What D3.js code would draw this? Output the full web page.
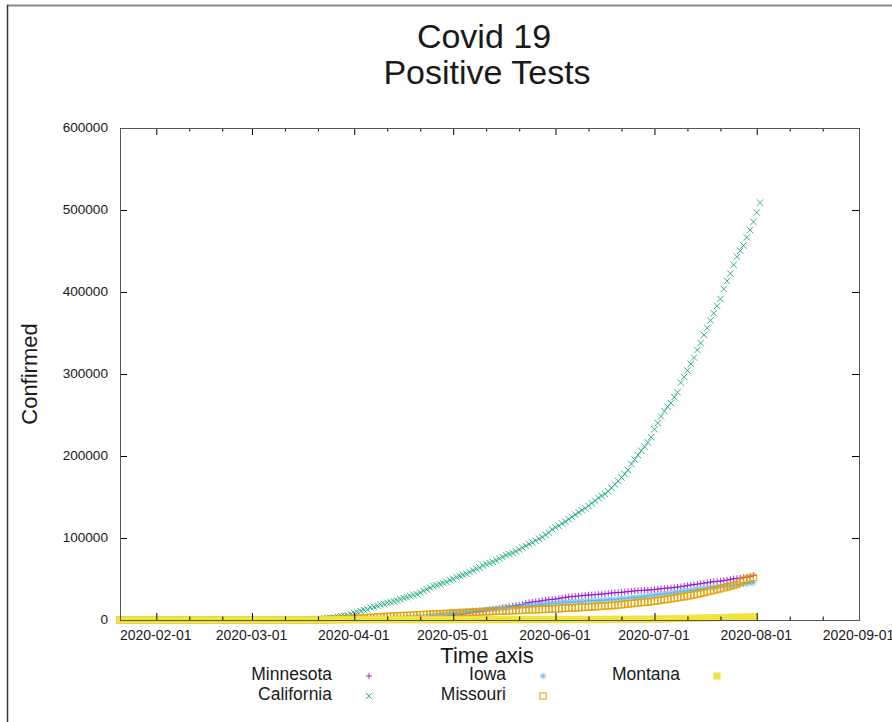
<!DOCTYPE html>
<html><head><meta charset="utf-8">
<script src="https://cdn.jsdelivr.net/npm/d3@7"></script>
<style>
body{margin:0;background:#fff}
text{font-family:"Liberation Sans",Arial,Helvetica,sans-serif;fill:#1a1a1a}
</style>
</head><body>
<svg id="chart" width="892" height="722"></svg>
<script>
// ---------- DATA (daily cumulative positive tests, one value per day from firstDay) ----------
const firstDay = "2020-01-21";
const seriesNames = ["Minnesota", "California", "Iowa", "Missouri", "Montana"];

const minnesota = [
  0,0,0,0,0,0,0,0,0,0,0,0,
  0,0,0,0,0,0,0,0,0,0,0,0,0,0,0,0,0,0,0,0,0,0,0,0,0,0,0,
  0,0,0,0,0,1,1,2,2,3,5,9,14,21,35,54,60,77,89,115,138,169,235,262,287,346,398,441,503,576,629,
  689,742,789,865,935,986,1069,1154,1242,1336,1427,1500,1621,1695,1809,1912,2071,2213,2356,2470,2567,2721,2942,3185,3446,3602,3816,4181,4420,4644,
  5136,5730,6228,6663,7234,7851,8579,9365,9794,10088,11271,11799,12494,12917,13435,14240,14969,15624,16372,17029,17670,18200,19005,20573,21315,21960,22464,22947,23531,24190,24850,
  25208,25508,26273,26980,27501,28224,28523,28869,29316,29795,30172,30471,30693,30882,31296,31675,32031,32467,32920,33227,33469,33763,34123,34616,35033,35549,35861,36052,36303,36500,
  36716,37210,37624,38136,38569,38972,39133,39589,40163,40767,41407,42023,42772,43170,43742,44347,45013,45470,46204,46898,47107,47457,48011,48721,49488,50291,50803,51153,51803,52281,52947,
  54463
];
const california = [
  0,0,0,0,0,0,0,2,2,2,2,3,
  3,3,6,6,6,6,6,6,6,6,6,6,6,6,6,6,6,6,6,6,8,8,8,8,10,10,10,
  10,10,12,21,25,35,51,59,81,95,101,144,178,221,282,340,426,557,698,751,952,1177,1364,1642,2108,2538,2998,3899,4657,5095,5852,
  7138,8210,9399,10773,12004,12837,15034,16019,17351,18897,19710,21081,21706,22795,23931,25356,26686,27677,29157,30491,31431,33261,35465,37344,39254,41355,42368,43558,45031,46164,
  48747,50130,52197,53616,54937,56212,58456,60614,62512,63779,66558,67939,69329,70978,72798,74936,76781,78839,80430,81795,83752,85997,88031,90252,92710,94558,96733,98980,101050,103813,106629,
  110583,113006,114733,117687,119807,122917,125738,128593,131319,133816,136191,139281,142338,145643,148855,151452,153560,157015,161099,165416,169530,173824,178054,183073,190222,195571,201050,206433,211243,216550,
  222917,232657,240195,248235,254745,260155,264681,271684,277774,289468,296499,304297,312344,320030,329162,337710,347634,356178,365334,374076,382971,391538,403725,413576,422528,433175,443083,450242,456714,466550,475541,
  485502,497000,509000
];
const iowa = [
  0,0,0,0,0,0,0,0,0,0,0,0,
  0,0,0,0,0,0,0,0,0,0,0,0,0,0,0,0,0,0,0,0,0,0,0,0,0,0,0,
  0,0,0,0,0,0,0,3,8,13,14,16,17,18,22,23,29,38,44,45,68,90,105,124,145,179,235,298,336,424,497,
  549,614,699,786,868,946,1048,1145,1270,1388,1510,1587,1710,1899,1995,2141,2332,2513,2902,3159,3641,3748,3924,4445,5092,5476,5868,6376,6843,7145,
  7884,8641,9169,9703,10111,10404,10942,11059,11457,11671,11959,12373,12912,13289,13675,14049,14651,14955,15293,15620,15917,16385,16893,17252,17556,17885,18091,18585,18950,19341,19670,
  19951,20337,20731,21130,21483,21768,21977,22071,22347,22686,22945,23350,23546,23609,23753,24002,24398,24622,24939,25053,25521,25916,26267,26673,27000,27430,27845,28156,28524,29136,
  29837,30412,31048,31486,31948,32301,32851,33262,33982,34570,35195,35680,36188,36621,37262,37831,38430,38962,39475,39780,40236,40838,41400,41889,42187,42644,43015,43462,44018,44519,44982,
  45488
];
const missouri = [
  0,0,0,0,0,0,0,0,0,0,0,0,
  0,0,0,0,0,0,0,0,0,0,0,0,0,0,0,0,0,0,0,0,0,0,0,0,0,0,0,
  0,0,0,0,0,0,1,1,1,1,1,1,2,4,5,5,15,18,28,47,90,183,255,356,502,670,838,903,1031,1163,1327,
  1581,1834,2113,2291,2367,2722,3037,3327,3539,3799,4024,4269,4388,4686,4895,5111,5283,5517,5807,5890,6121,6321,6506,6687,6910,7171,7318,7425,7660,7835,
  8063,8386,8754,8916,8950,9102,9405,9630,9745,9918,10135,10317,10456,10588,10675,10789,10945,11080,11263,11500,11654,11752,11920,12167,12291,12492,12673,12878,13005,13147,13327,
  13575,13727,13917,14184,14442,14652,14788,14941,15172,15375,15624,15862,16078,16215,16554,16801,17058,17371,17613,17908,18299,18677,19195,19652,20023,20508,21026,21502,21774,21965,
  22524,23076,23613,24064,24736,25391,25938,26593,27306,27890,28580,29396,30098,30776,31577,32486,33491,34476,35377,36315,37211,38159,39306,40461,41409,42453,43592,46054,48744,49729,50729,
  52000
];
const montana = [
  0,0,0,0,0,0,0,0,0,0,0,0,
  0,0,0,0,0,0,0,0,0,0,0,0,0,0,0,0,0,0,0,0,0,0,0,0,0,0,0,
  0,0,0,0,0,0,0,0,0,0,0,0,1,1,5,7,8,10,12,15,34,45,45,51,90,121,129,161,171,184,198,
  217,241,262,281,299,319,332,354,365,377,387,394,399,404,415,422,426,433,433,436,437,439,442,444,448,449,451,451,453,453,
  455,456,456,456,456,457,458,458,458,461,462,462,462,462,466,468,470,471,472,475,477,479,481,485,490,492,495,498,512,519,523,
  532,537,541,548,555,562,573,582,586,592,599,605,612,629,645,662,681,700,729,752,782,794,817,847,868,884,902,919,919,967,
  1016,1068,1122,1164,1249,1327,1371,1466,1593,1677,1758,1837,1961,2077,2209,2327,2402,2531,2630,2702,2779,2891,2960,3054,3195,3291,3372,3484,3582,3686,3814,
  3965
];

const xDomain = ["2020-01-21", "2020-09-01"];
const xTickLabels = ["2020-02-01","2020-03-01","2020-04-01","2020-05-01","2020-06-01","2020-07-01","2020-08-01","2020-09-01"];
const xMinorTicks = ["2020-02-11","2020-02-21","2020-03-11","2020-03-21","2020-04-11","2020-04-21","2020-05-11","2020-05-21",
                     "2020-06-11","2020-06-21","2020-07-11","2020-07-21","2020-08-11","2020-08-21"];
const yTickValues = [0,100000,200000,300000,400000,500000,600000];

// ---------- STYLE ----------
const colors = ["#9400D3", "#009E73", "#56B4E9", "#E69F00", "#F0E442"];
const shapes = ["plus", "cross", "star", "square", "filled"];
const allSeries = [minnesota, california, iowa, missouri, montana];

const parse = d3.utcParse("%Y-%m-%d");
const start = parse(firstDay);
const dateOf = i => d3.utcDay.offset(start, i);

const svg = d3.select("#chart");
svg.append("rect").attr("width", 892).attr("height", 722).attr("fill", "#fff");

// outer frame of the window
svg.append("line").attr("x1", 7).attr("x2", 892).attr("y1", 5.5).attr("y2", 5.5).attr("stroke", "#888").attr("stroke-width", 2);
svg.append("line").attr("x1", 7.5).attr("x2", 7.5).attr("y1", 5).attr("y2", 722).attr("stroke", "#333").attr("stroke-width", 1.5);

const L = 120, R = 859, T = 128, B = 620;
const x = d3.scaleUtc().domain(xDomain.map(parse)).range([L, R]);
const y = d3.scaleLinear().domain([0, 600000]).range([B, T]);

// ---------- titles ----------
svg.append("text").attr("x", 484).attr("y", 48).attr("text-anchor", "middle").style("font-size", "34px").text("Covid 19");
svg.append("text").attr("x", 487).attr("y", 84).attr("text-anchor", "middle").style("font-size", "34px").text("Positive Tests");
svg.append("text").attr("transform", "translate(37,374) rotate(-90)").attr("text-anchor", "middle").style("font-size", "22px").text("Confirmed");
svg.append("text").attr("x", 487).attr("y", 663).attr("text-anchor", "middle").style("font-size", "22px").text("Time axis");

// ---------- symbols ----------
function symbolPath(shape, cx, cy) {
  const s = 3.2;
  if (shape === "plus") return `M${cx - s},${cy}H${cx + s}M${cx},${cy - s}V${cy + s}`;
  if (shape === "cross") return `M${cx - s},${cy - s}L${cx + s},${cy + s}M${cx - s},${cy + s}L${cx + s},${cy - s}`;
  if (shape === "star") return `M${cx - s},${cy}H${cx + s}M${cx},${cy - s}V${cy + s}M${cx - s * 0.75},${cy - s * 0.75}L${cx + s * 0.75},${cy + s * 0.75}M${cx - s * 0.75},${cy + s * 0.75}L${cx + s * 0.75},${cy - s * 0.75}`;
  return `M${cx - s},${cy - s}H${cx + s}V${cy + s}H${cx - s}Z`;
}
function styleSym(sel, i) {
  if (shapes[i] === "filled") sel.attr("fill", colors[i]).attr("stroke", colors[i]).attr("stroke-width", 0.6);
  else sel.attr("fill", "none").attr("stroke", colors[i]).attr("stroke-opacity", 0.8)
          .attr("stroke-width", shapes[i] === "square" ? 1.3 : 1);
}

// ---------- points ----------
allSeries.forEach((vals, i) => {
  const g = svg.append("g");
  g.selectAll("path").data(vals).join("path")
    .attr("d", (v, k) => symbolPath(shapes[i], x(dateOf(k)), y(v)))
    .call(styleSym, i);
});

// ---------- axes (drawn in front) ----------
function clean(g) { g.select(".domain").remove(); g.selectAll("line").attr("stroke", "#000"); }
const fmt = d3.utcFormat("%Y-%m-%d");
svg.append("g").attr("transform", `translate(0,${B})`)
  .call(d3.axisBottom(x).tickValues(xTickLabels.map(parse)).tickFormat(fmt).tickSizeInner(-7).tickSizeOuter(0).tickPadding(10))
  .call(clean)
  .call(g => g.selectAll("text").attr("x", -1).style("font-size", "14px").style("font-family", '"Liberation Sans",Arial,sans-serif').attr("fill", "#1a1a1a"));
svg.append("g").attr("transform", `translate(0,${B})`)
  .call(d3.axisBottom(x).tickValues(xMinorTicks.map(parse)).tickFormat("").tickSizeInner(-3.5).tickSizeOuter(0)).call(clean);
svg.append("g").attr("transform", `translate(0,${T})`)
  .call(d3.axisTop(x).tickValues(xTickLabels.map(parse)).tickFormat("").tickSizeInner(-7).tickSizeOuter(0)).call(clean);
svg.append("g").attr("transform", `translate(0,${T})`)
  .call(d3.axisTop(x).tickValues(xMinorTicks.map(parse)).tickFormat("").tickSizeInner(-3.5).tickSizeOuter(0)).call(clean);
svg.append("g").attr("transform", `translate(${L},0)`)
  .call(d3.axisLeft(y).tickValues(yTickValues).tickFormat(d3.format("d")).tickSizeInner(-7).tickSizeOuter(0).tickPadding(12))
  .call(clean)
  .call(g => g.selectAll("text").attr("dy", "0.25em").style("font-size", "13.6px").style("font-family", '"Liberation Sans",Arial,sans-serif').attr("fill", "#1a1a1a"));
svg.append("g").attr("transform", `translate(${R},0)`)
  .call(d3.axisRight(y).tickValues(yTickValues).tickFormat("").tickSizeInner(-7).tickSizeOuter(0)).call(clean);

svg.append("rect").attr("x", L + 0.5).attr("y", T + 0.5).attr("width", R - L).attr("height", B - T)
  .attr("fill", "none").attr("stroke", "#555").attr("stroke-width", 1);

// ---------- legend ----------
const legendPos = [[0,0],[0,1],[1,0],[1,1],[2,0]]; // [column,row]
const legend = svg.append("g");
seriesNames.forEach((name, i) => {
  const [c, r] = legendPos[i];
  const tx = 332 + c * 174, sx = 369 + c * 174, ty = 674 + r * 20;
  legend.append("text").attr("x", tx).attr("y", ty + 6).attr("text-anchor", "end").style("font-size", "17.5px").text(name);
  legend.append("path").attr("d", symbolPath(shapes[i], sx, ty + 2)).call(styleSym, i);
});
</script>
</body></html>
